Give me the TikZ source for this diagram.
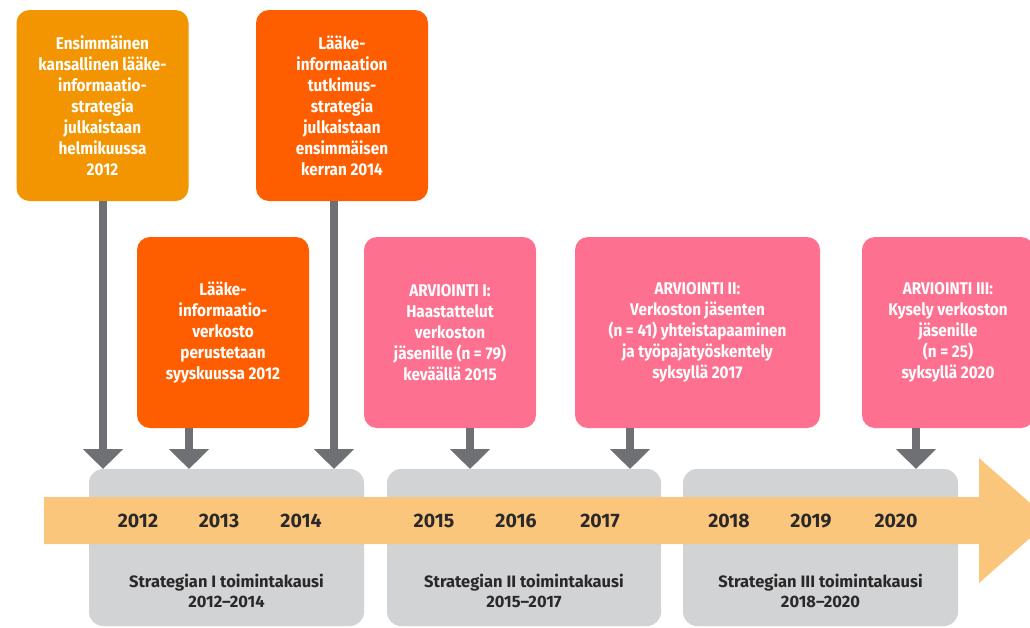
\documentclass[tikz,border=0pt]{standalone}
\usepackage{fontspec}
\setmainfont{Fira Sans}
\newfontfamily\eventfont{Fira Sans}[FakeStretch=0.9]
\usetikzlibrary{arrows.meta}

\definecolor{amber}{HTML}{F29500}
\definecolor{blaze}{HTML}{FF5E00}
\definecolor{rose}{HTML}{FE708F}
\definecolor{period}{HTML}{D1D3D4}
\definecolor{band}{HTML}{F9C67B}
\definecolor{arrowgray}{HTML}{6F7073}
\definecolor{ink}{HTML}{2A2829}

\begin{document}
\begin{tikzpicture}[x=1pt,y=-1pt,
  event/.style={rounded corners=13pt, minimum width=172pt, minimum height=191pt,
    text=white, font=\eventfont\bfseries\fontsize{17}{21}\selectfont, align=center, inner sep=0pt},
  phase/.style={fill=period, rounded corners=14pt, minimum width=275pt,
    minimum height=157pt, inner sep=0pt},
  year/.style={text=ink, font=\bfseries\fontsize{19.5}{24}\selectfont, inner sep=0pt},
  phaselabel/.style={text=ink, font=\bfseries\fontsize{16.5}{20}\selectfont,
    align=center, inner sep=0pt},
  pointer/.style={draw=arrowgray, line width=8pt,
    -{Triangle[width=39pt,length=20pt]}}
]
\useasboundingbox (0,0) rectangle (1030,627);
\clip (0,0) rectangle (1030,627);

% strategy periods
\node[phase] (g1) at (226.5,547.5) {};
\node[phase, minimum width=274pt] (g2) at (524,547.5) {};
\node[phase] (g3) at (820.5,547.5) {};

% timeline band with arrow head
\fill[band] (44,497) -- (979,497) -- (979,458) -- (1050,520.5)
  -- (979,583) -- (979,544) -- (44,544) -- cycle;

% years
\node[year] (y2012) at (138,521) {2012};
\node[year] (y2013) at (219,521) {2013};
\node[year] (y2014) at (301,521) {2014};
\node[year] (y2015) at (434,521) {2015};
\node[year] (y2016) at (516,521) {2016};
\node[year] (y2017) at (600,521) {2017};
\node[year] (y2018) at (729,521) {2018};
\node[year] (y2019) at (811,521) {2019};
\node[year] (y2020) at (896,521) {2020};

% period labels
\node[phaselabel] (l1) at (226.5,591) {Strategian I toimintakausi\\2012–2014};
\node[phaselabel] (l2) at (524,591) {Strategian II toimintakausi\\2015–2017};
\node[phaselabel] (l3) at (820.5,591) {Strategian III toimintakausi\\2018–2020};

% events
\node[event, fill=amber] (e1) at (102.5,105.5)
  {Ensimmäinen\\kansallinen lääke-\\informaatio-\\strategia\\julkaistaan\\helmikuussa\\2012};
\node[event, fill=blaze] (e2) at (342,105.5)
  {Lääke-\\informaation\\tutkimus-\\strategia\\julkaistaan\\ensimmäisen\\kerran 2014};
\node[event, fill=blaze] (e3) at (223,332.5)
  {Lääke-\\informaatio-\\verkosto\\perustetaan\\syyskuussa 2012};
\node[event, fill=rose] (a1) at (450,332.5)
  {ARVIOINTI I:\\Haastattelut\\verkoston\\jäsenille (n = 79)\\keväällä 2015};
\node[event, fill=rose, minimum width=245pt] (a2) at (697.5,332.5)
  {ARVIOINTI II:\\Verkoston jäsenten\\(n = 41) yhteistapaaminen\\ja työpajatyöskentely\\syksyllä 2017};
\node[event, fill=rose] (a3) at (948,332.5)
  {ARVIOINTI III:\\Kysely verkoston\\jäsenille\\(n = 25)\\syksyllä 2020};

% arrow tips on the period boxes
\coordinate (k1) at (103,469);
\coordinate (k2) at (334,469);
\coordinate (k3) at (189,469);
\coordinate (k4) at (470,469);
\coordinate (k5) at (630,469);
\coordinate (k6) at (916,469);

\draw[pointer] (k1 |- e1.south) -- (k1);
\draw[pointer] (k2 |- e2.south) -- (k2);
\draw[pointer] (k3 |- e3.south) -- (k3);
\draw[pointer] (k4 |- a1.south) -- (k4);
\draw[pointer] (k5 |- a2.south) -- (k5);
\draw[pointer] (k6 |- a3.south) -- (k6);
\end{tikzpicture}
\end{document}
